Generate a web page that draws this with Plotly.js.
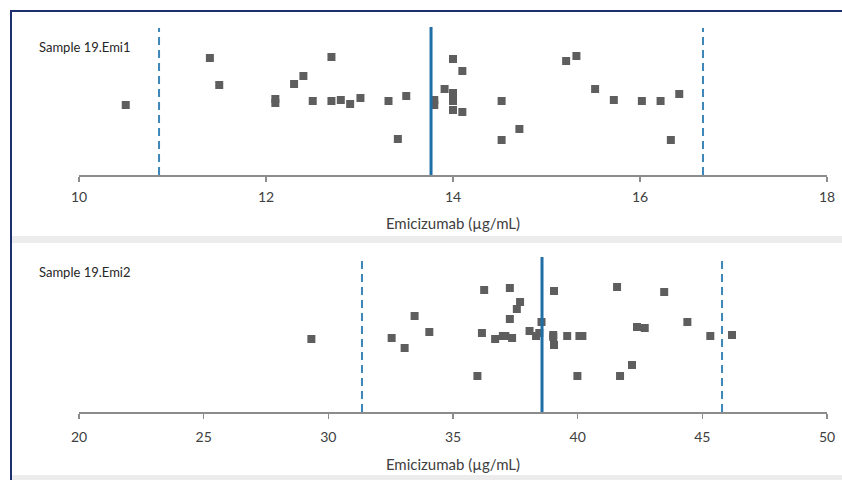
<!DOCTYPE html>
<html>
<head>
<meta charset="utf-8">
<script src="https://cdn.plot.ly/plotly-3.0.1.min.js"></script>
<style>html,body{margin:0;padding:0;background:#fff;}#chart{width:842px;height:480px;}</style>
</head>
<body>
<div id="chart"></div>
<script>
// Sample 19.Emi1 results (µg/mL) and vertical jitter positions
const emi1Values = [10.50,11.40,11.50,12.10,12.10,12.30,12.40,12.50,12.70,12.70,12.80,12.90,13.01,13.31,13.41,13.50,13.80,13.80,13.91,14.00,14.00,14.00,14.00,14.00,14.10,14.10,14.52,14.52,14.71,15.21,15.32,15.52,15.72,16.02,16.22,16.33,16.42];
const emi1Jitter = [70,117,90,76,72,91,99,74,118,74,75,71,77,74,36,79,75,70,86,116,82,78,74,65,104,63,74,35,46,114,119,86,75,74,74,35,81];
const emi1Mean = 13.765;
const emi1Limits = [10.856, 16.674];

// Sample 19.Emi2 results (µg/mL) and vertical jitter positions
const emi2Values = [29.32,32.54,33.06,33.46,34.05,35.98,36.16,36.25,36.69,37.00,37.10,37.28,37.28,37.37,37.56,37.69,38.07,38.33,38.46,38.55,39.02,39.02,39.05,39.05,39.58,39.99,40.07,40.19,41.58,41.70,42.18,42.38,42.69,43.47,44.40,45.32,46.19];
const emi2Jitter = [73,74,64,96,80,36,79,122,73,76,76,124,93,74,103,110,81,76,79,90,77,75,121,67,76,36,76,76,125,36,47,85,84,120,90,76,77];
const emi2Mean = 38.57;
const emi2Limits = [31.35, 45.79];

const panelLabels = ["Sample 19.Emi1", "Sample 19.Emi2"];
const axisTitle = "Emicizumab (µg/mL)";
const ticks1 = [10, 12, 14, 16, 18];
const ticks2 = [20, 25, 30, 35, 40, 45, 50];

const FONT = "Lato, 'Open Sans', sans-serif";
const lineBlue = "#1f6fa6";
const dashBlue = "#3c87b8";
const markerStyle = {symbol: "square", size: 8, color: "#5e5e5e", line: {width: 0}};

const traces = [
  {x: emi1Values, y: emi1Jitter, xaxis: "x", yaxis: "y", mode: "markers", type: "scatter", marker: markerStyle, name: panelLabels[0]},
  {x: [emi1Mean, emi1Mean], y: [0, 148], xaxis: "x", yaxis: "y", mode: "lines", line: {color: lineBlue, width: 3}, name: "Mean"},
  {x: [emi1Limits[0], emi1Limits[0]], y: [0, 147], xaxis: "x", yaxis: "y", mode: "lines", line: {color: dashBlue, width: 2, dash: "8px,5px"}, name: "Lower"},
  {x: [emi1Limits[1], emi1Limits[1]], y: [0, 147], xaxis: "x", yaxis: "y", mode: "lines", line: {color: dashBlue, width: 2, dash: "8px,5px"}, name: "Upper"},
  {x: emi2Values, y: emi2Jitter, xaxis: "x2", yaxis: "y2", mode: "markers", type: "scatter", marker: markerStyle, name: panelLabels[1]},
  {x: [emi2Mean, emi2Mean], y: [0, 155], xaxis: "x2", yaxis: "y2", mode: "lines", line: {color: lineBlue, width: 3}, name: "Mean"},
  {x: [emi2Limits[0], emi2Limits[0]], y: [0, 152], xaxis: "x2", yaxis: "y2", mode: "lines", line: {color: dashBlue, width: 2, dash: "8px,5px"}, name: "Lower"},
  {x: [emi2Limits[1], emi2Limits[1]], y: [0, 152], xaxis: "x2", yaxis: "y2", mode: "lines", line: {color: dashBlue, width: 2, dash: "8px,5px"}, name: "Upper"}
];

function xAxisDef(range, ticks, anchor, labelStandoff, titleStandoff) {
  return {
    domain: [79/842, 827/842], range: range, anchor: anchor,
    tickvals: ticks, ticktext: ticks.map(String),
    showgrid: false, zeroline: false,
    showline: true, linecolor: "#8c8c8c", linewidth: 2,
    ticks: "outside", ticklen: 5, tickcolor: "#8c8c8c", tickwidth: 1.5,
    tickfont: {family: FONT, size: 14, color: "#404040"},
    ticklabelstandoff: labelStandoff,
    title: {text: axisTitle, font: {family: FONT, size: 15, color: "#404040"}, standoff: titleStandoff},
    fixedrange: true
  };
}
function yAxisDef(domain, range, anchor) {
  return {domain: domain, range: range, anchor: anchor, visible: false, showgrid: false, zeroline: false, fixedrange: true};
}

const layout = {
  width: 842, height: 480,
  margin: {l: 0, r: 0, t: 0, b: 0},
  paper_bgcolor: "#ffffff", plot_bgcolor: "rgba(0,0,0,0)",
  showlegend: false,
  xaxis: xAxisDef([10, 18], ticks1, "y", 3, 15),
  yaxis: yAxisDef([1 - 175/480, 1 - 25/480], [0, 150], "x"),
  xaxis2: xAxisDef([20, 50], ticks2, "y2", 6, 16),
  yaxis2: yAxisDef([1 - 412/480, 1 - 250/480], [0, 162], "x2"),
  annotations: [
    {text: panelLabels[0], xref: "paper", yref: "paper", x: 37/842, y: 1 - 47/480, xanchor: "left", yanchor: "middle", showarrow: false, font: {family: FONT, size: 13, color: "#262626"}},
    {text: panelLabels[1], xref: "paper", yref: "paper", x: 37/842, y: 1 - 272/480, xanchor: "left", yanchor: "middle", showarrow: false, font: {family: FONT, size: 13, color: "#262626"}}
  ],
  shapes: [
    {type: "rect", xref: "paper", yref: "paper", x0: 12/842, x1: 1, y0: 1 - 243/480, y1: 1 - 236/480, fillcolor: "#ececec", line: {width: 0}, layer: "below"},
    {type: "rect", xref: "paper", yref: "paper", x0: 12/842, x1: 1, y0: 0, y1: 1 - 475/480, fillcolor: "#ececec", line: {width: 0}, layer: "below"},
    {type: "line", xref: "paper", yref: "paper", x0: 10/842, x1: 1, y0: 1 - 11/480, y1: 1 - 11/480, line: {color: "#1c2f6e", width: 2}},
    {type: "line", xref: "paper", yref: "paper", x0: 11/842, x1: 11/842, y0: 0, y1: 1 - 10/480, line: {color: "#1c2f6e", width: 2}}
  ]
};

Plotly.newPlot("chart", traces, layout, {staticPlot: true, displayModeBar: false});
</script>
</body>
</html>
